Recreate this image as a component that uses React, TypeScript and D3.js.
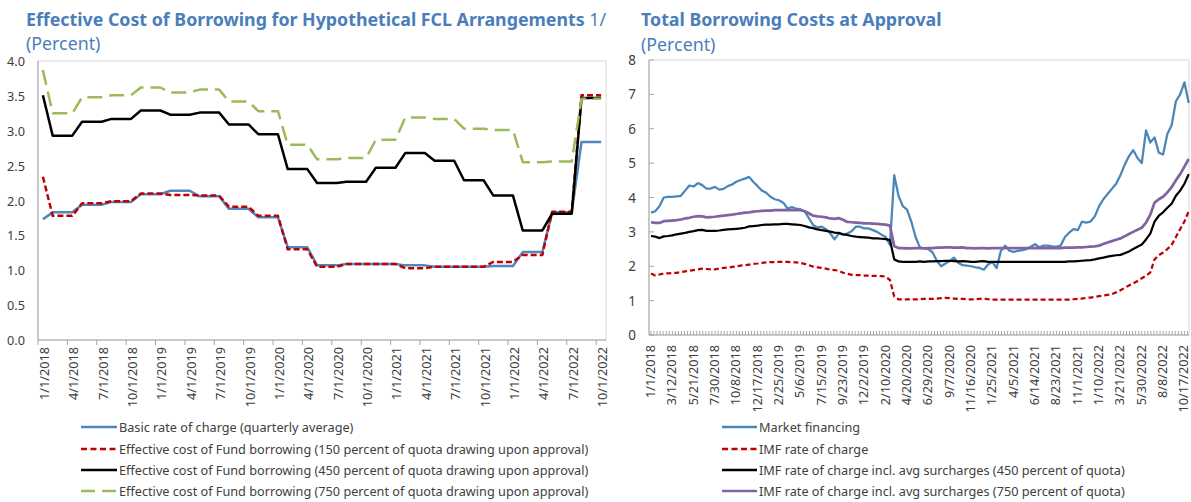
import React from "react";
import * as d3 from "d3";

const W = 1191;
const H = 502;
const FONT = "'Noto Sans', 'Open Sans', sans-serif";
const TITLE_BLUE = "#4A7EBB";
const TEXT = "#404040";
const AXIS = "#A6A6A6";
const FRAME = "#D9D9D9";
const TITLE_SIZE = 17.8;
const LABEL_SIZE = 12.7;

// ---- left chart: monthly, Jan 2018 .. Oct 2022
const fclMonths = d3.timeMonth.range(new Date(2018, 0, 1), new Date(2022, 10, 1));
const fclTickLabels = [
  "1/1/2018", "4/1/2018", "7/1/2018", "10/1/2018",
  "1/1/2019", "4/1/2019", "7/1/2019", "10/1/2019",
  "1/1/2020", "4/1/2020", "7/1/2020", "10/1/2020",
  "1/1/2021", "4/1/2021", "7/1/2021", "10/1/2021",
  "1/1/2022", "4/1/2022", "7/1/2022", "10/1/2022",
];

const basicRate = [
  1.73, 1.83, 1.83, 1.83, 1.94, 1.94, 1.94, 1.98, 1.98, 1.98,
  2.09, 2.09, 2.09, 2.14, 2.14, 2.14, 2.06, 2.06, 2.06, 1.88,
  1.88, 1.88, 1.76, 1.76, 1.76, 1.33, 1.33, 1.33, 1.07, 1.07,
  1.07, 1.09, 1.09, 1.09, 1.09, 1.09, 1.09, 1.07, 1.07, 1.07,
  1.05, 1.05, 1.05, 1.05, 1.05, 1.05, 1.06, 1.06, 1.06, 1.26,
  1.26, 1.26, 1.83, 1.83, 1.83, 2.84, 2.84, 2.84,
];
const cost150 = [
  2.34, 1.78, 1.78, 1.78, 1.96, 1.96, 1.96, 1.99, 1.99, 1.99,
  2.10, 2.10, 2.10, 2.08, 2.08, 2.08, 2.07, 2.07, 2.07, 1.91,
  1.91, 1.91, 1.78, 1.78, 1.78, 1.30, 1.30, 1.30, 1.05, 1.05,
  1.05, 1.09, 1.09, 1.09, 1.09, 1.09, 1.09, 1.03, 1.03, 1.03,
  1.05, 1.05, 1.05, 1.05, 1.05, 1.05, 1.12, 1.12, 1.12, 1.22,
  1.22, 1.22, 1.84, 1.84, 1.84, 3.51, 3.51, 3.51,
];
const cost450 = [
  3.51, 2.93, 2.93, 2.93, 3.13, 3.13, 3.13, 3.17, 3.17, 3.17,
  3.29, 3.29, 3.29, 3.23, 3.23, 3.23, 3.26, 3.26, 3.26, 3.09,
  3.09, 3.09, 2.95, 2.95, 2.95, 2.45, 2.45, 2.45, 2.25, 2.25,
  2.25, 2.27, 2.27, 2.27, 2.47, 2.47, 2.47, 2.68, 2.68, 2.68,
  2.57, 2.57, 2.57, 2.29, 2.29, 2.29, 2.07, 2.07, 2.07, 1.57,
  1.57, 1.57, 1.81, 1.81, 1.81, 3.47, 3.47, 3.47,
];
const cost750 = [
  3.87, 3.25, 3.25, 3.25, 3.48, 3.48, 3.48, 3.51, 3.51, 3.51,
  3.62, 3.62, 3.62, 3.55, 3.55, 3.55, 3.59, 3.59, 3.59, 3.42,
  3.42, 3.42, 3.28, 3.28, 3.28, 2.80, 2.80, 2.80, 2.59, 2.59,
  2.59, 2.61, 2.61, 2.61, 2.87, 2.87, 2.87, 3.19, 3.19, 3.19,
  3.17, 3.17, 3.17, 3.03, 3.03, 3.03, 3.01, 3.01, 3.01, 2.55,
  2.55, 2.55, 2.56, 2.56, 2.56, 3.46, 3.46, 3.46,
];

// ---- right chart: one value every 14 days from 1/1/2018
const approvalStart = new Date(2018, 0, 1);
const approvalStepDays = 14;
const approvalTickLabels = [
  "1/1/2018", "3/12/2018", "5/21/2018", "7/30/2018", "10/8/2018", "12/17/2018",
  "2/25/2019", "5/6/2019", "7/15/2019", "9/23/2019", "12/2/2019", "2/10/2020",
  "4/20/2020", "6/29/2020", "9/7/2020", "11/16/2020", "1/25/2021", "4/5/2021",
  "6/14/2021", "8/23/2021", "11/1/2021", "1/10/2022", "3/21/2022", "5/30/2022",
  "8/8/2022", "10/17/2022",
];

const marketFinancing = [
  3.56, 3.60, 3.75, 4.00, 4.02, 4.02, 4.03, 4.05, 4.20, 4.35,
  4.32, 4.42, 4.36, 4.26, 4.26, 4.31, 4.23, 4.25, 4.33, 4.38,
  4.46, 4.51, 4.55, 4.60, 4.45, 4.33, 4.20, 4.14, 4.02, 3.95,
  3.92, 3.85, 3.68, 3.72, 3.68, 3.66, 3.60, 3.40, 3.20, 3.13,
  3.15, 3.08, 2.96, 2.78, 2.95, 2.92, 2.95, 3.02, 3.15, 3.15,
  3.10, 3.10, 3.05, 3.00, 2.92, 2.85, 2.62, 4.65, 4.05, 3.75,
  3.65, 3.30, 2.85, 2.55, 2.52, 2.50, 2.40, 2.15, 2.00, 2.08,
  2.15, 2.25, 2.10, 2.03, 2.02, 2.00, 1.97, 1.95, 1.90, 2.05,
  2.12, 1.95, 2.45, 2.60, 2.45, 2.42, 2.45, 2.47, 2.50, 2.57,
  2.64, 2.55, 2.60, 2.60, 2.58, 2.57, 2.60, 2.85, 2.98, 3.08,
  3.05, 3.30, 3.27, 3.30, 3.45, 3.75, 3.95, 4.10, 4.25, 4.40,
  4.65, 4.95, 5.20, 5.38, 5.15, 5.00, 5.95, 5.60, 5.75, 5.30,
  5.25, 5.85, 6.10, 6.80, 7.00, 7.35, 6.75,
];
const imfRate = [
  1.79, 1.73, 1.76, 1.79, 1.79, 1.80, 1.81, 1.83, 1.85, 1.87,
  1.89, 1.91, 1.93, 1.92, 1.91, 1.91, 1.93, 1.95, 1.96, 1.98,
  2.00, 2.02, 2.03, 2.05, 2.07, 2.08, 2.10, 2.11, 2.12, 2.12,
  2.13, 2.13, 2.13, 2.12, 2.11, 2.10, 2.07, 2.03, 1.99, 1.97,
  1.95, 1.93, 1.90, 1.89, 1.87, 1.81, 1.78, 1.75, 1.74, 1.74,
  1.73, 1.73, 1.72, 1.72, 1.71, 1.70, 1.60, 1.12, 1.04, 1.04,
  1.04, 1.03, 1.04, 1.04, 1.05, 1.05, 1.05, 1.06, 1.07, 1.08,
  1.07, 1.06, 1.05, 1.05, 1.04, 1.04, 1.04, 1.05, 1.06, 1.04,
  1.03, 1.03, 1.03, 1.03, 1.03, 1.03, 1.03, 1.03, 1.03, 1.03,
  1.03, 1.03, 1.03, 1.03, 1.03, 1.03, 1.03, 1.03, 1.03, 1.04,
  1.05, 1.06, 1.08, 1.09, 1.11, 1.13, 1.15, 1.17, 1.19, 1.24,
  1.30, 1.37, 1.44, 1.50, 1.57, 1.65, 1.72, 1.82, 2.20, 2.32,
  2.40, 2.50, 2.62, 2.85, 3.08, 3.30, 3.60,
];
const imfSurcharge450 = [
  2.88, 2.86, 2.82, 2.87, 2.88, 2.90, 2.93, 2.95, 2.97, 3.00,
  3.02, 3.05, 3.06, 3.03, 3.03, 3.03, 3.04, 3.06, 3.07, 3.08,
  3.09, 3.10, 3.12, 3.16, 3.17, 3.18, 3.20, 3.21, 3.21, 3.22,
  3.22, 3.23, 3.23, 3.22, 3.21, 3.20, 3.17, 3.13, 3.11, 3.07,
  3.05, 3.03, 3.01, 2.98, 2.97, 2.93, 2.91, 2.88, 2.86, 2.85,
  2.84, 2.83, 2.81, 2.81, 2.80, 2.79, 2.76, 2.20, 2.14, 2.13,
  2.13, 2.13, 2.13, 2.14, 2.13, 2.14, 2.14, 2.15, 2.15, 2.16,
  2.16, 2.15, 2.14, 2.15, 2.14, 2.13, 2.13, 2.14, 2.15, 2.13,
  2.13, 2.13, 2.13, 2.13, 2.13, 2.13, 2.13, 2.13, 2.13, 2.13,
  2.13, 2.13, 2.13, 2.13, 2.13, 2.13, 2.13, 2.13, 2.14, 2.14,
  2.15, 2.16, 2.17, 2.18, 2.20, 2.23, 2.25, 2.28, 2.30, 2.32,
  2.33, 2.38, 2.43, 2.50, 2.57, 2.63, 2.78, 2.95, 3.30, 3.47,
  3.57, 3.70, 3.82, 4.05, 4.20, 4.40, 4.68,
];
const imfSurcharge750 = [
  3.28, 3.26, 3.26, 3.31, 3.32, 3.33, 3.34, 3.36, 3.39, 3.41,
  3.44, 3.46, 3.45, 3.42, 3.43, 3.44, 3.46, 3.47, 3.49, 3.50,
  3.52, 3.54, 3.56, 3.57, 3.59, 3.60, 3.61, 3.62, 3.62, 3.63,
  3.63, 3.63, 3.64, 3.63, 3.63, 3.63, 3.60, 3.54, 3.47, 3.45,
  3.44, 3.42, 3.39, 3.38, 3.40, 3.35, 3.29, 3.28, 3.27, 3.26,
  3.25, 3.25, 3.24, 3.23, 3.22, 3.21, 3.18, 2.58, 2.53, 2.53,
  2.52, 2.52, 2.53, 2.53, 2.52, 2.53, 2.53, 2.54, 2.54, 2.55,
  2.55, 2.54, 2.54, 2.55, 2.53, 2.53, 2.52, 2.53, 2.53, 2.52,
  2.53, 2.53, 2.53, 2.53, 2.53, 2.53, 2.53, 2.53, 2.53, 2.53,
  2.53, 2.53, 2.53, 2.53, 2.53, 2.53, 2.53, 2.54, 2.54, 2.54,
  2.55, 2.55, 2.56, 2.57, 2.58, 2.60, 2.65, 2.69, 2.73, 2.77,
  2.81, 2.87, 2.94, 3.00, 3.06, 3.12, 3.27, 3.50, 3.85, 3.95,
  4.02, 4.15, 4.30, 4.50, 4.68, 4.90, 5.12,
];

const parseDate = d3.timeParse("%m/%d/%Y");

type Series = { name: string; values: number[]; color: string; width: number; dash?: string; legendDash?: string };

const fclSeries: Series[] = [
  { name: "Basic rate of charge (quarterly average)", values: basicRate, color: "#4F86BD", width: 2.5 },
  { name: "Effective cost of Fund borrowing (150 percent of quota drawing upon approval)", values: cost150, color: "#C00000", width: 2.5, dash: "6,3", legendDash: "6,3.5" },
  { name: "Effective cost of Fund borrowing (450 percent of quota drawing upon approval)", values: cost450, color: "#000000", width: 2.5 },
  { name: "Effective cost of Fund borrowing (750 percent of quota drawing upon approval)", values: cost750, color: "#9BBB59", width: 2.5, dash: "15,7", legendDash: "14,7" },
];

const approvalSeries: Series[] = [
  { name: "Market financing", values: marketFinancing, color: "#4A86B8", width: 2.25 },
  { name: "IMF rate of charge", values: imfRate, color: "#C00000", width: 2.25, dash: "5,3", legendDash: "6,3.5" },
  { name: "IMF rate of charge incl. avg surcharges (450 percent of quota)", values: imfSurcharge450, color: "#000000", width: 2.25 },
  { name: "IMF rate of charge incl. avg surcharges (750 percent of quota)", values: imfSurcharge750, color: "#8064A2", width: 2.75 },
];

function Legend({ series, x0, x1, rows }: { series: Series[]; x0: number; x1: number; rows: number[] }) {
  return (
    <g>
      {series.map((s, i) => (
        <g key={s.name}>
          <line x1={x0} x2={x1} y1={rows[i]} y2={rows[i]} stroke={s.color} strokeWidth={2.5}
            strokeDasharray={s.legendDash} />
          <text x={x1 + 2} y={rows[i]} dominantBaseline="central" fontSize={LABEL_SIZE} fill={TEXT}>{s.name}</text>
        </g>
      ))}
    </g>
  );
}

function FclChart() {
  const left = 38, right = 606, top = 61, bottom = 340;
  const x = d3.scaleBand<number>().domain(d3.range(fclMonths.length)).range([left, right]);
  const cx = (i: number) => (x(i) as number) + x.bandwidth() / 2;
  const y = d3.scaleLinear().domain([0, 4]).range([bottom, top]);
  const line = d3.line<number>().x((_, i) => cx(i)).y(d => y(d));
  const monthIndex = (label: string) => {
    const d = parseDate(label)!;
    return fclMonths.findIndex(m => +m === +d);
  };

  return (
    <g>
      <text x={26} y={26} fontSize={TITLE_SIZE} fontWeight="bold" fill={TITLE_BLUE}>
        Effective Cost of Borrowing for Hypothetical FCL Arrangements
        <tspan fontWeight="normal"> 1/</tspan>
      </text>
      <text x={26} y={50} fontSize={TITLE_SIZE} fill={TITLE_BLUE}>(Percent)</text>

      <rect x={left} y={top} width={right - left} height={bottom - top} fill="none" stroke={FRAME} />
      <line x1={left} x2={left} y1={top} y2={bottom} stroke={AXIS} />
      <line x1={left} x2={right} y1={bottom} y2={bottom} stroke={AXIS} />

      {y.ticks(8).map(t => (
        <text key={t} x={25} y={y(t)} textAnchor="end" dominantBaseline="central" fontSize={LABEL_SIZE} fill={TEXT}>
          {d3.format(".1f")(t)}
        </text>
      ))}

      {d3.range(0, fclMonths.length, 3).map(i => (
        <line key={i} x1={x(i)} x2={x(i)} y1={bottom} y2={bottom + 5} stroke={AXIS} />
      ))}
      {fclTickLabels.map(lbl => {
        const cxl = cx(monthIndex(lbl));
        return (
          <text key={lbl} transform={`translate(${cxl + 1},${347}) rotate(-90)`} textAnchor="end"
            dominantBaseline="central" fontSize={LABEL_SIZE} fill={TEXT}>{lbl}</text>
        );
      })}

      {fclSeries.map(s => (
        <path key={s.name} d={line(s.values) || ""} fill="none" stroke={s.color} strokeWidth={s.width}
          strokeDasharray={s.dash} strokeLinejoin="round" />
      ))}

      <Legend series={fclSeries} x0={81} x1={117} rows={[427, 449, 470, 491]} />
    </g>
  );
}

function ApprovalChart() {
  const left = 649, right = 1189, top = 60, bottom = 335;
  const x = d3.scaleTime()
    .domain([new Date(2017, 11, 25, 12), new Date(2022, 10, 1)])
    .range([left, right]);
  const y = d3.scaleLinear().domain([0, 8]).range([bottom, top]);
  const dateAt = (i: number) => d3.timeDay.offset(approvalStart, i * approvalStepDays);
  const line = d3.line<number>().x((_, i) => x(dateAt(i))).y(d => y(d));
  const [d0, d1] = x.domain();
  const minorTicks = d3.range(0, 200)
    .map(j => d3.timeDay.offset(approvalStart, j * 10))
    .filter(d => d >= d0 && d <= d1);

  return (
    <g>
      <text x={641} y={26} fontSize={TITLE_SIZE} fontWeight="bold" fill={TITLE_BLUE}>Total Borrowing Costs at Approval</text>
      <text x={641} y={51} fontSize={TITLE_SIZE} fill={TITLE_BLUE}>(Percent)</text>

      <rect x={left} y={top} width={right - left} height={bottom - top} fill="none" stroke={FRAME} />
      <line x1={left} x2={left} y1={top} y2={bottom} stroke={AXIS} />
      <line x1={left} x2={right} y1={bottom} y2={bottom} stroke={AXIS} />

      {y.ticks(8).map(t => (
        <g key={t}>
          <line x1={left} x2={left + 5} y1={y(t)} y2={y(t)} stroke={AXIS} />
          <text x={636} y={y(t)} textAnchor="end" dominantBaseline="central" fontSize={13.5} fill={TEXT}>{t}</text>
        </g>
      ))}

      {minorTicks.map(d => (
        <line key={+d} x1={x(d)} x2={x(d)} y1={bottom} y2={bottom - 4} stroke={AXIS} />
      ))}
      {approvalTickLabels.map(lbl => (
        <text key={lbl} transform={`translate(${x(parseDate(lbl)!) - 1},${345}) rotate(-90)`} textAnchor="end"
          dominantBaseline="central" fontSize={LABEL_SIZE} fill={TEXT}>{lbl}</text>
      ))}

      {approvalSeries.map(s => (
        <path key={s.name} d={line(s.values) || ""} fill="none" stroke={s.color} strokeWidth={s.width}
          strokeDasharray={s.dash} strokeLinejoin="round" />
      ))}

      <Legend series={approvalSeries} x0={722} x1={757} rows={[427, 449, 470, 491]} />
    </g>
  );
}

export default function App() {
  return (
    <svg width={W} height={H} viewBox={`0 0 ${W} ${H}`}
      style={{ position: "absolute", left: 0, top: 0, fontFamily: FONT, background: "#fff" }}>
      <rect width={W} height={H} fill="#fff" />
      <FclChart />
      <ApprovalChart />
    </svg>
  );
}
